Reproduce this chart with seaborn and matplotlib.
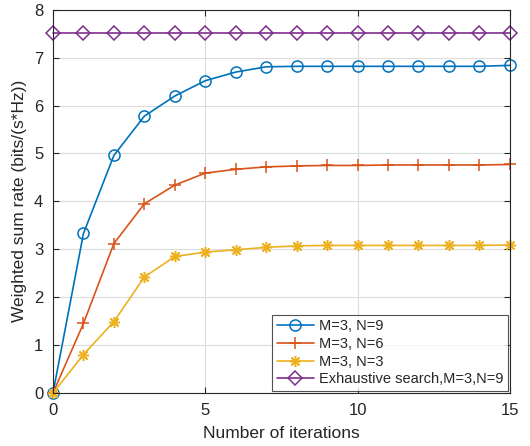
import numpy as np
import pandas as pd
import seaborn as sns
import matplotlib.pyplot as plt

# data
iterations = list(range(16))
rate_n9 = [0, 3.33, 4.96, 5.78, 6.20, 6.52, 6.70, 6.81, 6.82, 6.82, 6.82, 6.82, 6.82, 6.82, 6.82, 6.84]
rate_n6 = [0, 1.45, 3.12, 3.95, 4.34, 4.59, 4.67, 4.72, 4.74, 4.75, 4.75, 4.76, 4.76, 4.76, 4.76, 4.77]
rate_n3 = [0, 0.80, 1.49, 2.42, 2.85, 2.94, 2.99, 3.04, 3.07, 3.08, 3.08, 3.08, 3.08, 3.08, 3.08, 3.09]
rate_exh = [7.52] * 16
labels = ["M=3, N=9", "M=3, N=6", "M=3, N=3", "Exhaustive search,M=3,N=9"]

sns.set_style("ticks")
plt.rcParams['font.family'] = ['Liberation Sans', 'DejaVu Sans']

fig = plt.figure(figsize=(5.3, 4.46), dpi=100)
ax = fig.add_axes([0.1, 0.119, 0.862, 0.859])

series = [rate_n9, rate_n6, rate_n3, rate_exh]
colors = ["#0072BD", "#D95319", "#EDB120", "#7E2F8E"]
markers = ["o", "+", (8, 2, 0), "D"]
sizes = [8, 9, 8, 7]
for vals, lab, c, m, s in zip(series, labels, colors, markers, sizes):
    df = pd.DataFrame({"it": iterations, "rate": vals})
    sns.lineplot(data=df, x="it", y="rate", ax=ax, color=c, marker=m, markersize=s,
                 markerfacecolor="none", markeredgecolor=c, markeredgewidth=1.1,
                 linewidth=1.2, label=lab, clip_on=False)

ax.set_xlim(0, 15)
ax.set_ylim(0, 8)
ax.set_xticks([0, 5, 10, 15])
ax.set_yticks(range(9))
ax.grid(True, color="#dcdcdc", linewidth=0.8)
ax.tick_params(direction="in", top=True, right=True, labelsize=12, colors="#262626",
               length=4, pad=7)
for sp in ax.spines.values():
    sp.set_color("#262626")
    sp.set_linewidth(0.8)
ax.set_xlabel("Number of iterations", fontsize=12.5, color="#262626", labelpad=6)
ax.set_ylabel("Weighted sum rate (bits/(s*Hz))", fontsize=12.5, color="#262626", labelpad=5)
leg = ax.legend(loc="lower right", fontsize=10.5, frameon=True, fancybox=False,
                edgecolor="#262626", handlelength=2.6, borderpad=0.3, labelspacing=0.25,
                handletextpad=0.3, borderaxespad=0.15)
leg.get_frame().set_linewidth(0.8)

fig.savefig("out.png", dpi=100)
